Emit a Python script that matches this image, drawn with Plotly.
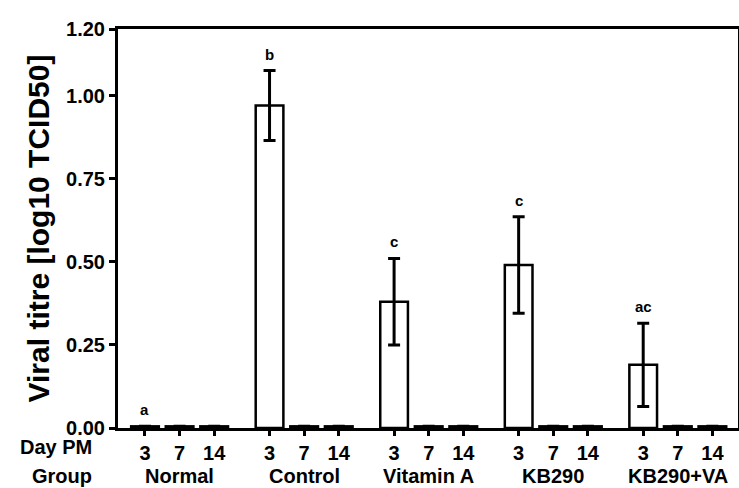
import plotly.graph_objects as go

groups = ["Normal", "Control", "Vitamin A", "KB290", "KB290+VA"]
days = ["3", "7", "14"]
# viral titre (log10 TCID50) per group, per day (3, 7, 14)
titre = [
    [0.005, 0.005, 0.005],
    [0.97, 0.005, 0.005],
    [0.38, 0.005, 0.005],
    [0.49, 0.005, 0.005],
    [0.19, 0.005, 0.005],
]
titre_err = [
    [0.0, 0.0, 0.0],
    [0.105, 0.0, 0.0],
    [0.13, 0.0, 0.0],
    [0.145, 0.0, 0.0],
    [0.125, 0.0, 0.0],
]
sig_letters = ["a", "b", "c", "c", "ac"]
y_ticks = [0.0, 0.25, 0.5, 0.75, 1.0, 1.2]
y_ticklabels = ["0.00", "0.25", "0.50", "0.75", "1.00", "1.20"]

GAP = 3.6
xs, ys, es, xt, xl = [], [], [], [], []
for gi, g in enumerate(groups):
    for di, d in enumerate(days):
        x = gi * GAP + di
        xs.append(x)
        ys.append(titre[gi][di])
        es.append(titre_err[gi][di])
        xt.append(x)
        xl.append(d)

FONT = "Liberation Sans, Arial, sans-serif"
TS = 20

fig = go.Figure()
fig.add_trace(go.Bar(
    x=xs, y=ys, width=0.8,
    marker=dict(color="white", line=dict(color="black", width=2.5)),
    error_y=dict(type="data", array=es, visible=True, color="black",
                 thickness=3, width=6),
    showlegend=False,
))

L, R, T, B, W, H = 118, 1, 29, 60, 739, 488
pw, ph = W - L - R, H - T - B

annotations = []
for gi, g in enumerate(groups):
    x3 = gi * GAP
    annotations.append(dict(
        x=x3, y=titre[gi][0] + titre_err[gi][0], xref="x", yref="y",
        text=sig_letters[gi], showarrow=False, yanchor="bottom", yshift=6,
        font=dict(family=FONT, size=15, color="black", weight="bold")))
    annotations.append(dict(
        x=gi * GAP + 1, y=0, xref="x", yref="y", text=g, showarrow=False,
        yanchor="middle", yshift=-48,
        font=dict(family=FONT, size=TS, color="black", weight="bold")))

for txt, px, py in [("Day PM", 56, 447), ("Group", 62, 476)]:
    annotations.append(dict(
        x=(px - L) / pw, y=(H - B - py) / ph, xref="paper", yref="paper",
        text=txt, showarrow=False, xanchor="center", yanchor="middle",
        font=dict(family=FONT, size=TS, color="black", weight="bold")))

fig.update_layout(
    width=W, height=H,
    margin=dict(l=L, r=R, t=T, b=B, autoexpand=False),
    plot_bgcolor="white", paper_bgcolor="white",
    annotations=annotations,
    xaxis=dict(
        range=[-0.78, 17.14], tickmode="array", tickvals=xt, ticktext=xl,
        ticks="outside", ticklen=5, tickwidth=2.5, tickcolor="black",
        showline=True, linewidth=3, linecolor="black", mirror=True,
        showgrid=False, zeroline=False, automargin=False,
        tickfont=dict(family=FONT, size=TS, color="black", weight="bold"),
    ),
    yaxis=dict(
        range=[0, 1.2], tickmode="array", tickvals=y_ticks, ticktext=y_ticklabels,
        ticks="outside", ticklen=6, tickwidth=2.5, tickcolor="black",
        showline=True, linewidth=3, linecolor="black", mirror=True,
        showgrid=False, zeroline=False, automargin=False,
        tickfont=dict(family=FONT, size=TS, color="black", weight="bold"),
        title=dict(text="Viral titre [log10 TCID50]", standoff=8,
                   font=dict(family=FONT, size=30, color="black", weight="bold")),
    ),
)

fig.write_html("out.html", config={"displayModeBar": False},
               post_script="document.body.style.margin='0';document.body.style.overflow='hidden';")
